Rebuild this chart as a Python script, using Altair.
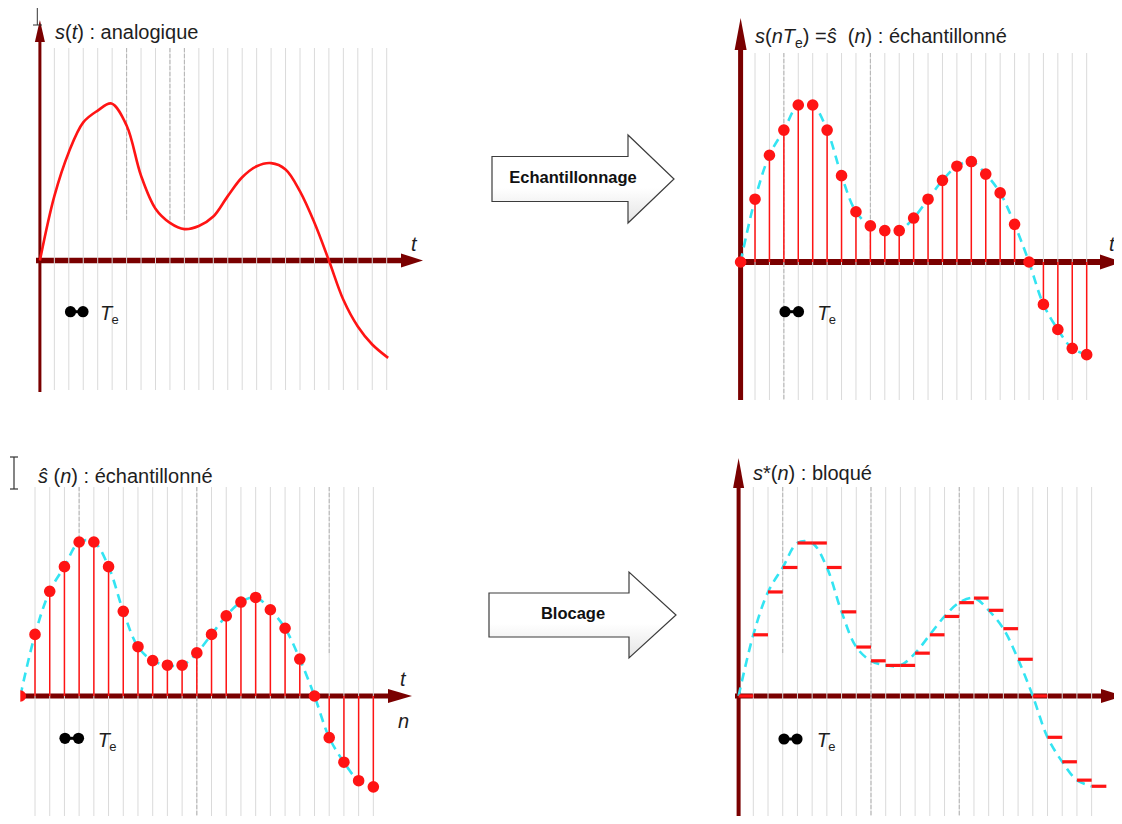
import altair as alt
import pandas as pd

# ---------------- data ----------------
N = list(range(25))
SAMPLES = [0.00, 0.40, 0.68, 0.84, 1.00, 1.00, 0.84, 0.55, 0.32, 0.23, 0.20, 0.20,
           0.28, 0.40, 0.52, 0.61, 0.64, 0.56, 0.44, 0.24, 0.00, -0.27, -0.43, -0.55, -0.59]
T_ANALOG = [0, 1, 2, 3, 4, 4.95, 6, 7, 8, 9, 10, 11, 12, 13, 14, 15, 16, 17, 18,
            19, 20, 21, 22, 23, 24.1]
S_ANALOG = [0.00, 0.41, 0.69, 0.88, 0.955, 1.00, 0.86, 0.54, 0.33, 0.24, 0.20, 0.22,
            0.28, 0.41, 0.53, 0.60, 0.62, 0.58, 0.44, 0.24, 0.00, -0.25, -0.42, -0.535, -0.62]
GRID_N = list(range(1, 25))

samples_df = pd.DataFrame({"n": N, "v": SAMPLES})
analog_df = pd.DataFrame({"n": T_ANALOG, "v": S_ANALOG})
grid_df = pd.DataFrame({"n": GRID_N})
ONE = pd.DataFrame({"k": [0]})

# ---------------- style ----------------
FONT = "Liberation Sans"
AXIS_C = "#7a0000"
RED = "#ff1414"
CYAN = "#33e4f2"
GRID_C = "#dadada"
DGRID_C = "#b4b4b4"
TXT = "#1e1e1e"

# Arial / Liberation Sans advance widths (1/1000 em)
CW = {'s': 500, '(': 333, ')': 333, 't': 278, ' ': 278, ':': 278, 'a': 556, 'n': 556,
      'l': 222, 'o': 556, 'g': 556, 'i': 222, 'q': 556, 'u': 556, 'e': 556, 'T': 611,
      '=': 584, 'ŝ': 500, 'é': 556, 'c': 500, 'h': 556, '*': 389, 'b': 556}


def text_w(s, size):
    return sum(CW.get(c, 556) for c in s) * size / 1000.0


# panel geometry in page pixels: plot box, origin of (n=0, v=0), px per sample, px per unit
GEO = {
    "TL": dict(left=8, top=8, w=432, h=412, ox=39.9, oy=260.5, dx=14.45, dy=157),
    "TR": dict(left=720, top=8, w=394, h=412, ox=740.6, oy=262.0, dx=14.42, dy=157),
    "BL": dict(left=8, top=420, w=432, h=396, ox=20.3, oy=696.0, dx=14.71, dy=154),
    "BR": dict(left=720, top=420, w=394, h=396, ox=738.6, oy=696.0, dx=14.71, dy=153),
}
# x axis: start, head base, tip, head half height, width ; y axis: bottom, head base, tip, half width, width
AXES = {
    "TL": dict(x=(36, 401, 423, 7, 5.5), y=(392, 42, 20, 5, 3)),
    "TR": dict(x=(736, 1100, 1122, 7.5, 6), y=(400, 50, 18, 6, 5)),
    "BL": dict(x=(20, 388, 412, 7, 5), y=None),
    "BR": dict(x=(735, 1101, 1124, 7, 5), y=(820, 488, 458, 5.5, 4)),
}
GRID_Y = {"TL": (48, 390), "TR": (53, 400), "BL": (487, 816), "BR": (487, 816)}
DARK_GRID = {
    "TL": [(6, 48, 222), (9, 48, 222), (10, 48, 222)],
    "TR": [(3, 53, 400), (9, 53, 258)],
    "BL": [(4, 487, 545), (12, 487, 816), (21, 487, 655)],
    "BR": [(3, 487, 653), (9, 487, 816), (15, 487, 816)],
}
# Te marker: dot1 x, dot2 x, dot y, T x, T baseline
TE = {
    "TL": (70.5, 83.0, 311.7, 100.0, 319.5),
    "TR": (785.0, 798.5, 311.7, 817.3, 319.5),
    "BL": (65.0, 78.5, 738.3, 97.7, 746.5),
    "BR": (784.0, 797.0, 739.0, 816.7, 747.0),
}
TITLES = {
    "TL": (55, 38.5, [("s", "italic", 20, 0), ("(", "normal", 20, 0), ("t", "italic", 20, 0),
                      (") : analogique", "normal", 20, 0)]),
    "TR": (755, 43.0, [("s", "italic", 20, 0), ("(", "normal", 20, 0), ("nT", "italic", 20, 0),
                       ("e", "normal", 14, 4.5), (") =", "normal", 20, 0), ("ŝ", "italic", 20, 0),
                       ("  (", "normal", 20, 0), ("n", "italic", 20, 0),
                       (") : échantillonné", "normal", 20, 0)]),
    "BL": (38, 482.5, [("ŝ", "italic", 20, 0), (" (", "normal", 20, 0), ("n", "italic", 20, 0),
                       (") : échantillonné", "normal", 20, 0)]),
    "BR": (753, 479.5, [("s", "italic", 20, 0), ("*(", "normal", 20, 0), ("n", "italic", 20, 0),
                        (") : bloqué", "normal", 20, 0)]),
}
AXIS_LABELS = {
    "TL": [("t", 411, 250.5)],
    "TR": [("t", 1109, 251)],
    "BL": [("t", 400, 686), ("n", 398, 728)],
    "BR": [],
}


def tri_right(length, half):
    return f"M {-length} {-half} L 0 0 L {-length} {half} Z"


def tri_up(length, half):
    return f"M {-half} {length} L 0 0 L {half} {length} Z"


def build_panel(key, kind):
    g = GEO[key]
    left, top, w, h = g["left"], g["top"], g["w"], g["h"]
    ox, oy, dx, dy = g["ox"], g["oy"], g["dx"], g["dy"]
    xs = alt.Scale(domain=[(left - ox) / dx, (left + w - ox) / dx], nice=False, zero=False)
    ys = alt.Scale(domain=[(oy - top - h) / dy, (oy - top) / dy], nice=False, zero=False)

    def px(x):
        return x - left

    def py(y):
        return y - top

    X = alt.X("n:Q", scale=xs, axis=None)
    Y = alt.Y("v:Q", scale=ys, axis=None)
    L = []

    # axes
    xa = AXES[key]["x"]
    L.append(alt.Chart(ONE).mark_rule(color=AXIS_C, strokeWidth=xa[4], clip=True).encode(
        x=alt.value(px(xa[0])), x2=alt.value(px(xa[1])), y=alt.value(py(oy))))
    L.append(alt.Chart(ONE).mark_point(shape=tri_right(xa[2] - xa[1], xa[3]), size=4, filled=True,
                                       color=AXIS_C, opacity=1, strokeWidth=0, clip=True).encode(
        x=alt.value(px(xa[2])), y=alt.value(py(oy))))
    ya = AXES[key]["y"]
    if ya is not None:
        L.append(alt.Chart(ONE).mark_rule(color=AXIS_C, strokeWidth=ya[4], clip=True).encode(
            x=alt.value(px(ox)), y=alt.value(py(ya[0])), y2=alt.value(py(ya[1]))))
        L.append(alt.Chart(ONE).mark_point(shape=tri_up(ya[1] - ya[2], ya[3]), size=4, filled=True,
                                           color=AXIS_C, opacity=1, strokeWidth=0, clip=True).encode(
            x=alt.value(px(ox)), y=alt.value(py(ya[2]))))

    # grid lines
    gy0, gy1 = GRID_Y[key]
    L.append(alt.Chart(grid_df).mark_rule(color=GRID_C, strokeWidth=1, clip=True).encode(
        x=X, y=alt.value(py(gy0)), y2=alt.value(py(gy1))))
    for n_, a, b in DARK_GRID[key]:
        L.append(alt.Chart(pd.DataFrame({"n": [n_]})).mark_rule(
            color=DGRID_C, strokeWidth=1, strokeDash=[4, 2], clip=True).encode(
            x=X, y=alt.value(py(a)), y2=alt.value(py(b))))

    # content
    if kind == "analog":
        L.append(alt.Chart(analog_df).mark_line(color=RED, strokeWidth=2.6, interpolate="catmull-rom",
                                                clip=True).encode(x=X, y=Y))
    else:
        L.append(alt.Chart(samples_df).mark_line(color=CYAN, strokeWidth=2.6, strokeDash=[9, 6],
                                                 interpolate="catmull-rom", clip=True).encode(x=X, y=Y))
        if kind == "stems":
            L.append(alt.Chart(samples_df).transform_calculate(z="0").mark_rule(
                color=RED, strokeWidth=1.5, clip=True).encode(x=X, y=Y, y2="z:Q"))
            L.append(alt.Chart(samples_df).mark_circle(size=135, color=RED, opacity=1, clip=True).encode(
                x=X, y=Y))
        else:
            L.append(alt.Chart(samples_df).transform_calculate(n2="datum.n + 1").mark_rule(
                color=RED, strokeWidth=3.2, strokeCap="butt", clip=True).encode(x=X, x2="n2:Q", y=Y))

    if key == "BL":
        # the reference picture is cut at its left edge
        L.append(alt.Chart(ONE).mark_rect(color="white", clip=True).encode(
            x=alt.value(0), x2=alt.value(px(20.3)), y=alt.value(py(640)), y2=alt.value(py(760))))
        for (x1, y1, x2, y2) in [(14, 457, 14, 489), (10, 457, 18, 457), (10, 489, 18, 489)]:
            L.append(alt.Chart(ONE).mark_rule(color="#333333", strokeWidth=1.2, clip=True).encode(
                x=alt.value(px(x1)), x2=alt.value(px(x2)), y=alt.value(py(y1)), y2=alt.value(py(y2))))
    if key == "TL":
        for (x1, y1, x2, y2) in [(37.3, 8, 37.3, 25), (33, 25, 42, 25)]:
            L.append(alt.Chart(ONE).mark_rule(color="#333333", strokeWidth=1, clip=True).encode(
                x=alt.value(px(x1)), x2=alt.value(px(x2)), y=alt.value(py(y1)), y2=alt.value(py(y2))))

    # Te marker
    d1, d2, dyy, tx, tb = TE[key]
    L.append(alt.Chart(ONE).mark_rule(color="black", strokeWidth=3, clip=True).encode(
        x=alt.value(px(d1)), x2=alt.value(px(d2)), y=alt.value(py(dyy))))
    for dxx in (d1, d2):
        L.append(alt.Chart(ONE).mark_circle(size=125, color="black", opacity=1, clip=True).encode(
            x=alt.value(px(dxx)), y=alt.value(py(dyy))))
    L.append(alt.Chart(ONE).mark_text(text="T", font=FONT, fontSize=20, fontStyle="italic", align="left",
                                      baseline="alphabetic", color=TXT, clip=True).encode(
        x=alt.value(px(tx)), y=alt.value(py(tb))))
    L.append(alt.Chart(ONE).mark_text(text="e", font=FONT, fontSize=13, align="left",
                                      baseline="alphabetic", color=TXT, clip=True).encode(
        x=alt.value(px(tx + 11.5)), y=alt.value(py(tb + 4))))

    # title (leading spaces are turned into offsets: svg text drops them)
    x0, base, pieces = TITLES[key]
    cx = x0
    for txt, style, size, shift in pieces:
        stripped = txt.lstrip(" ")
        lead = text_w(txt[:len(txt) - len(stripped)], size)
        L.append(alt.Chart(ONE).mark_text(text=stripped, font=FONT, fontSize=size, fontStyle=style,
                                          align="left", baseline="alphabetic", color=TXT, clip=True).encode(
            x=alt.value(px(cx + lead)), y=alt.value(py(base + shift))))
        cx += text_w(txt, size)

    # axis letters
    for txt, lx, lb in AXIS_LABELS[key]:
        L.append(alt.Chart(ONE).mark_text(text=txt, font=FONT, fontSize=20, fontStyle="italic",
                                          align="left", baseline="alphabetic", color=TXT, clip=True).encode(
            x=alt.value(px(lx)), y=alt.value(py(lb))))

    return alt.layer(*L).properties(width=w, height=h)


def build_arrow(top, h, cx, cy, xl, xb, xt, sh, hh, label):
    left = 440
    path = (f"M {xl - cx} {-sh} L {xb - cx} {-sh} L {xb - cx} {-hh} L {xt - cx} 0 "
            f"L {xb - cx} {hh} L {xb - cx} {sh} L {xl - cx} {sh} Z")
    grad = alt.Gradient(gradient="linear",
                        stops=[alt.GradientStop(color="#ffffff", offset=0),
                               alt.GradientStop(color="#ffffff", offset=0.6),
                               alt.GradientStop(color="#e4e4e4", offset=1)],
                        x1=0, x2=0, y1=0, y2=1)
    arrow = alt.Chart(ONE).mark_point(shape=path, size=4, filled=True, fill=grad, stroke="#3c3c3c",
                                      strokeWidth=1.2, opacity=1, clip=True).encode(
        x=alt.value(cx - left), y=alt.value(cy - top))
    text = alt.Chart(ONE).mark_text(text=label, font=FONT, fontSize=16.5,
                                    fontWeight="bold", align="center", baseline="middle",
                                    color="#111111", clip=True).encode(
        x=alt.value(573 - left), y=alt.value(cy - 1 - top))
    return alt.layer(arrow, text).properties(width=280, height=h)


tl = build_panel("TL", "analog")
tr = build_panel("TR", "stems")
bl = build_panel("BL", "stems")
br = build_panel("BR", "hold")
a1 = build_arrow(8, 412, 583, 179, 492, 628, 674, 22.5, 44, "Echantillonnage")
a2 = build_arrow(420, 396, 582.5, 615, 489, 629, 676, 22, 43, "Blocage")

row1 = alt.hconcat(tl, a1, tr, spacing=0)
row2 = alt.hconcat(bl, a2, br, spacing=0)
chart = alt.vconcat(row1, row2, spacing=0).properties(
    padding=0, background="white"
).configure_view(stroke=None)

chart.save("out.html", embed_options={"renderer": "svg", "actions": False})
